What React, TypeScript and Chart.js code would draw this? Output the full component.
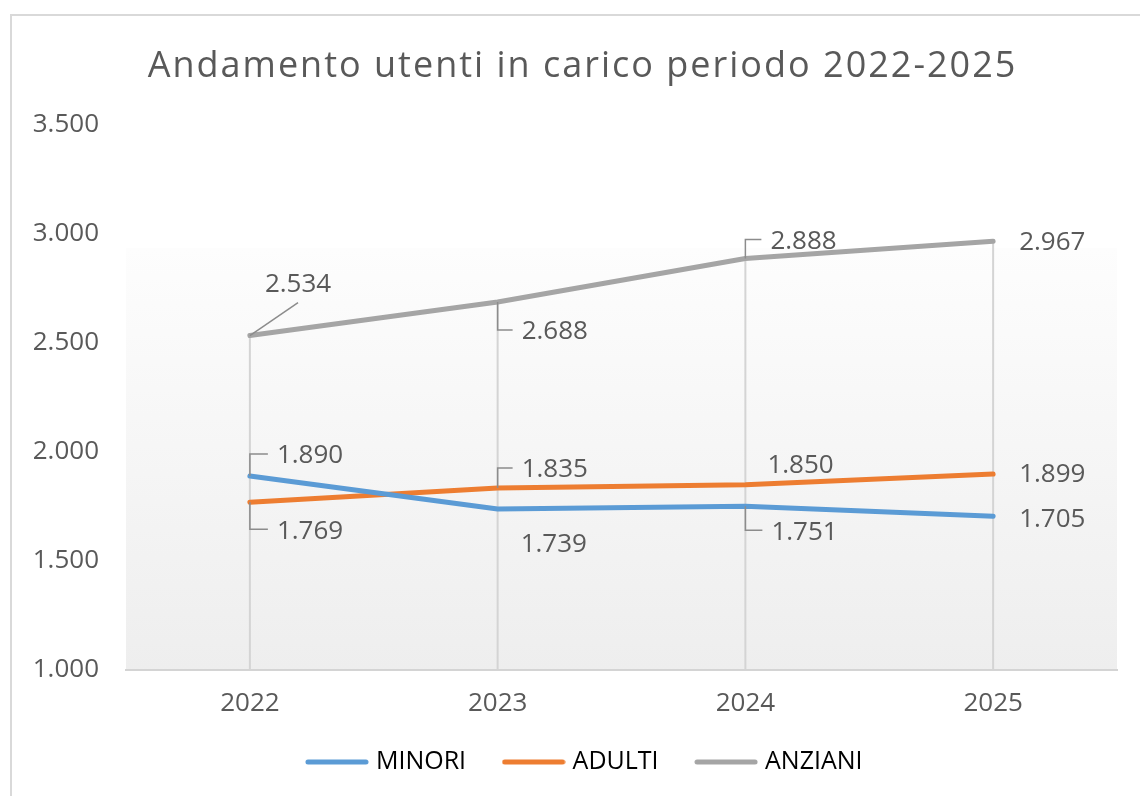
import React, { useEffect, useRef } from "react";
import { Chart, registerables } from "chart.js";
Chart.register(...registerables);

const YEARS = ["2022", "2023", "2024", "2025"];
const MINORI = [1890, 1739, 1751, 1705];
const ADULTI = [1769, 1835, 1850, 1899];
const ANZIANI = [2534, 2688, 2888, 2967];
const Y_TICKS = [1000, 1500, 2000, 2500, 3000, 3500];
const TITLE = "Andamento utenti in carico periodo 2022-2025";
const SERIES_NAMES = ["MINORI", "ADULTI", "ANZIANI"];
const SERIES_COLORS = ["#5B9BD5", "#ED7D31", "#A5A5A5"];

// Label placement (style only): text-left offset, text-centre offset, leader kind
type Placement = { dx: number; dy: number; leader: "none" | "up" | "down" | "diag" };
const LABEL_PLACEMENT: Placement[][] = [
  [
    { dx: 27, dy: -22, leader: "up" },
    { dx: 23, dy: 34, leader: "none" },
    { dx: 26, dy: 24, leader: "down" },
    { dx: 26, dy: 1, leader: "none" },
  ],
  [
    { dx: 27, dy: 27, leader: "down" },
    { dx: 24, dy: -20, leader: "up" },
    { dx: 22, dy: -21, leader: "none" },
    { dx: 26, dy: -1, leader: "none" },
  ],
  [
    { dx: 15, dy: -53, leader: "diag" },
    { dx: 24, dy: 28, leader: "down" },
    { dx: 25, dy: -19, leader: "up" },
    { dx: 26, dy: 0, leader: "none" },
  ],
];

const TEXT_COLOR = "#595959";
const FONT = "Open Sans";
const LEGEND_SHIFT_X = 18;
const LEGEND_SHIFT_Y = -11.5;
const fmt = (v: number) => String(v).replace(/\B(?=(\d{3})+(?!\d))/g, ".");

function legendSwatch(color: string): HTMLCanvasElement {
  const c = document.createElement("canvas");
  c.width = 64;
  c.height = 6;
  const g = c.getContext("2d")!;
  g.strokeStyle = color;
  g.lineWidth = 5;
  g.lineCap = "round";
  g.beginPath();
  g.moveTo(3, 3);
  g.lineTo(61, 3);
  g.stroke();
  return c;
}

const bgPlugin = {
  id: "plotBg",
  beforeDraw(chart: any) {
    const { ctx, chartArea: a } = chart;
    const top = a.top + (a.bottom - a.top) * 0.2257;
    const g = ctx.createLinearGradient(0, top, 0, a.bottom);
    g.addColorStop(0, "#fdfdfd");
    g.addColorStop(1, "#eeeeee");
    ctx.save();
    ctx.fillStyle = g;
    ctx.fillRect(a.left, top, a.right - a.left, a.bottom - top);
    ctx.restore();
  },
};

const legendShiftPlugin = {
  id: "legendShift",
  afterLayout(chart: any) {
    const lg = chart.legend;
    if (lg) {
      lg.left += LEGEND_SHIFT_X;
      lg.right += LEGEND_SHIFT_X;
      lg.top += LEGEND_SHIFT_Y;
      lg.bottom += LEGEND_SHIFT_Y;
    }
  },
};

const dropLinesPlugin = {
  id: "dropLines",
  beforeDatasetsDraw(chart: any) {
    const { ctx, chartArea: a, scales } = chart;
    ctx.save();
    ctx.strokeStyle = "#d4d4d4";
    ctx.lineWidth = 2;
    YEARS.forEach((_, i) => {
      const maxV = Math.max(...chart.data.datasets.map((d: any) => d.data[i]));
      const x = scales.x.getPixelForValue(i);
      const y = scales.y.getPixelForValue(maxV);
      ctx.beginPath();
      ctx.moveTo(x, y);
      ctx.lineTo(x, a.bottom);
      ctx.stroke();
    });
    ctx.restore();
  },
};

const labelsPlugin = {
  id: "dataLabels",
  afterDatasetsDraw(chart: any) {
    const { ctx } = chart;
    ctx.save();
    ctx.font = `26px "${FONT}"`;
    ctx.textAlign = "left";
    ctx.textBaseline = "alphabetic";
    chart.data.datasets.forEach((ds: any, di: number) => {
      const meta = chart.getDatasetMeta(di);
      meta.data.forEach((pt: any, i: number) => {
        const p = LABEL_PLACEMENT[di][i];
        const text = fmt(ds.data[i]);
        const w = ctx.measureText(text).width;
        const tx = pt.x + p.dx;
        const ty = pt.y + p.dy;
        ctx.strokeStyle = "#8c8c8c";
        ctx.lineWidth = 1.5;
        if (p.leader === "up" || p.leader === "down") {
          ctx.beginPath();
          ctx.moveTo(pt.x, pt.y);
          ctx.lineTo(pt.x, ty);
          ctx.lineTo(tx - 9, ty);
          ctx.stroke();
        } else if (p.leader === "diag") {
          ctx.beginPath();
          ctx.moveTo(pt.x, pt.y);
          ctx.lineTo(tx + w / 2, ty + 20);
          ctx.stroke();
        }
        ctx.fillStyle = TEXT_COLOR;
        ctx.fillText(text, tx, ty + 26 * 0.357);
      });
    });
    ctx.restore();
  },
};

const titlePlugin = {
  id: "customTitle",
  afterDraw(chart: any) {
    const { ctx } = chart;
    const lg = chart.legend;
    const cx = (lg.left + lg.right) / 2;
    ctx.save();
    ctx.font = `36px "${FONT}"`;
    (ctx as any).letterSpacing = "2px";
    ctx.fillStyle = TEXT_COLOR;
    ctx.textAlign = "center";
    ctx.textBaseline = "alphabetic";
    ctx.fillText(TITLE, cx - 4, 77);
    ctx.restore();
  },
};

export default function App() {
  const ref = useRef<HTMLCanvasElement | null>(null);
  useEffect(() => {
    if (!ref.current) return;
    const seriesValues = [MINORI, ADULTI, ANZIANI];
    const swatches = SERIES_COLORS.map(legendSwatch);
    const chart = new Chart(ref.current, {
      type: "line",
      data: {
        labels: YEARS,
        datasets: SERIES_NAMES.map((name, i) => ({
          label: name,
          data: seriesValues[i],
          borderColor: SERIES_COLORS[i],
          backgroundColor: SERIES_COLORS[i],
          borderWidth: 5,
          pointRadius: 0,
          tension: 0,
          fill: false,
          borderCapStyle: "round",
          borderJoinStyle: "round",
        })),
      },
      options: {
        animation: false,
        responsive: false,
        layout: { padding: { left: 20, right: 23, top: 125, bottom: 0 } },
        plugins: {
          title: { display: false },
          tooltip: { enabled: false },
          legend: {
            position: "bottom",
            labels: {
              usePointStyle: true,
              pointStyleWidth: 53,
              boxHeight: 25,
              padding: 41,
              color: TEXT_COLOR,
              font: { family: FONT, size: 25 },
              generateLabels: (c: any) =>
                c.data.datasets.map((d: any, i: number) => ({
                  text: d.label,
                  fillStyle: d.borderColor,
                  strokeStyle: d.borderColor,
                  lineWidth: 0,
                  pointStyle: swatches[i],
                  hidden: false,
                  datasetIndex: i,
                })),
            },
          },
        },
        scales: {
          x: {
            offset: true,
            grid: { display: false, drawTicks: false },
            border: { display: true, color: "#d4d4d4", width: 2 },
            ticks: { padding: 18, color: TEXT_COLOR, font: { family: FONT, size: 26 } },
            afterFit: (s: any) => {
              s.height = 50;
            },
          },
          y: {
            min: Y_TICKS[0],
            max: Y_TICKS[Y_TICKS.length - 1],
            grid: { display: false, drawTicks: false },
            border: { display: false },
            ticks: {
              stepSize: Y_TICKS[1] - Y_TICKS[0],
              padding: 27,
              color: TEXT_COLOR,
              font: { family: FONT, size: 26 },
              callback: (v: any) => fmt(Number(v)),
            },
            afterFit: (s: any) => {
              s.width = 106;
            },
          },
        },
      } as any,
      plugins: [bgPlugin, legendShiftPlugin, dropLinesPlugin, labelsPlugin, titlePlugin],
    });
    return () => chart.destroy();
  }, []);

  return (
    <div
      style={{
        position: "fixed",
        left: 0,
        top: 0,
        width: 1140,
        height: 796,
        overflow: "hidden",
        background: "#ffffff",
      }}
    >
      <div
        style={{
          position: "absolute",
          left: 10,
          top: 14,
          width: 1200,
          height: 900,
          border: "2px solid #d9d9d9",
        }}
      />
      <canvas
        ref={ref}
        width={1140}
        height={796}
        style={{ position: "absolute", left: 0, top: 0, width: 1140, height: 796 }}
      />
    </div>
  );
}
